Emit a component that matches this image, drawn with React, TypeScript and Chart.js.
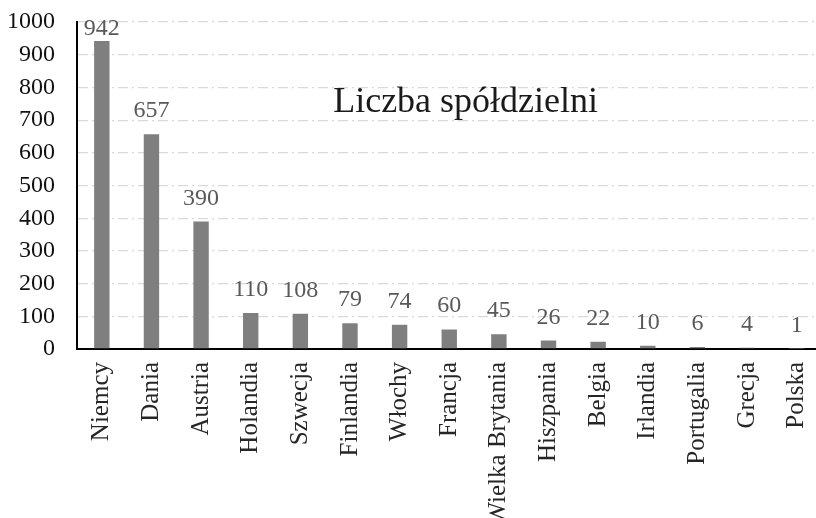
import React, { useEffect, useRef } from "react";
import { Chart, registerables } from "chart.js";

Chart.register(...registerables);

const categories = [
  "Niemcy", "Dania", "Austria", "Holandia", "Szwecja", "Finlandia", "Włochy",
  "Francja", "Wielka Brytania", "Hiszpania", "Belgia", "Irlandia", "Portugalia", "Grecja", "Polska",
];
const values = [942, 657, 390, 110, 108, 79, 74, 60, 45, 26, 22, 10, 6, 4, 1];
const chartTitle = "Liczba spółdzielni";
const yMin = 0;
const yMax = 1000;
const yStep = 100;

const FONT = "'Liberation Serif', 'Times New Roman', serif";

const labelPlugin = {
  id: "barLabels",
  afterDatasetsDraw(chart: any) {
    const { ctx, chartArea } = chart;
    const meta = chart.getDatasetMeta(0);
    ctx.save();
    ctx.font = `24px ${FONT}`;
    ctx.fillStyle = "#595959";
    ctx.textAlign = "center";
    ctx.textBaseline = "alphabetic";
    meta.data.forEach((bar: any, i: number) => {
      const y = Math.max(bar.y - 17, chartArea.top + 13);
      ctx.fillText(String(values[i]), bar.x, y);
    });
    ctx.font = `36px ${FONT}`;
    ctx.fillStyle = "#1a1a1a";
    ctx.textAlign = "center";
    const tx = chartArea.left + (chartArea.right - chartArea.left) * 0.522;
    const ty = chartArea.top + (chartArea.bottom - chartArea.top) * 0.275;
    ctx.fillText(chartTitle, tx, ty);
    ctx.restore();
  },
};

export default function App() {
  const ref = useRef<HTMLCanvasElement | null>(null);
  useEffect(() => {
    if (!ref.current) return;
    const chart = new Chart(ref.current, {
      type: "bar",
      data: {
        labels: categories,
        datasets: [
          {
            data: values,
            backgroundColor: "#7f7f7f",
            borderWidth: 0,
            barPercentage: 0.31,
            categoryPercentage: 1,
          },
        ],
      },
      options: {
        animation: false,
        responsive: false,
        maintainAspectRatio: false,
        devicePixelRatio: 1,
        layout: { autoPadding: false, padding: { top: 14, right: 10, left: 0, bottom: 0 } },
        plugins: {
          legend: { display: false },
          tooltip: { enabled: false },
          title: { display: false },
        },
        scales: {
          x: {
            grid: { display: false, drawTicks: false },
            border: { display: true, color: "#000", width: 2 },
            ticks: {
              color: "#262626",
              font: { family: FONT, size: 25 },
              minRotation: 90,
              maxRotation: 90,
              padding: 13,
              autoSkip: false,
            },
            afterFit: (s: any) => {
              s.height = 169;
            },
          },
          y: {
            min: yMin,
            max: yMax,
            grid: { color: "#d9d9d9", lineWidth: 1.3, drawTicks: false },
            border: { display: true, color: "#000", width: 2, dash: [10, 4, 2, 4] },
            ticks: {
              stepSize: yStep,
              autoSkip: false,
              color: "#111",
              font: { family: FONT, size: 24, lineHeight: 0.01 },
              padding: 22,
              callback: (v: any) => String(v),
            },
            afterFit: (s: any) => {
              s.width = 77;
            },
          },
        },
      },
      plugins: [labelPlugin],
    });
    return () => chart.destroy();
  }, []);
  return (
    <div
      style={{
        position: "fixed",
        left: 0,
        top: 0,
        width: 816,
        height: 518,
        overflow: "hidden",
        background: "#fff",
      }}
    >
      <canvas ref={ref} width={840} height={518} style={{ width: 840, height: 518, display: "block" }} />
    </div>
  );
}
